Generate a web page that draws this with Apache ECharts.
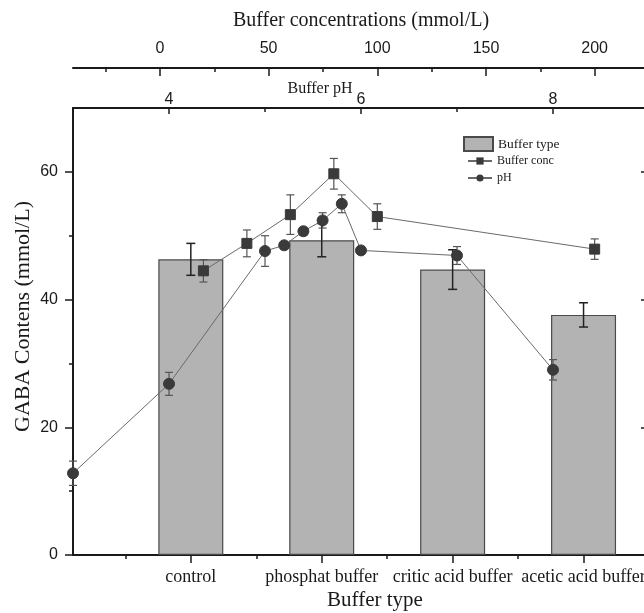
<!DOCTYPE html>
<html>
<head>
<meta charset="utf-8">
<script src="https://cdn.jsdelivr.net/npm/echarts@6/dist/echarts.min.js"></script>
<style>
html,body{margin:0;padding:0;background:#fff;}
#chart{width:644px;height:613px;}
</style>
</head>
<body>
<div id="chart"></div>
<script>
// ---- data ----
const categories = ['control', 'phosphat buffer', 'critic acid buffer', 'acetic acid buffer'];
const categoryPos = [1, 2, 3, 4];
const barValues = [46.3, 49.3, 44.7, 37.6];
const barErrors = [2.5, 2.6, 3.1, 1.9];

const concX = [20, 40, 60, 80, 100, 200];
const concValues = [44.5, 48.8, 53.3, 59.7, 53.0, 47.9];
const concErrors = [1.75, 2.1, 3.1, 2.4, 2.0, 1.6];

const phX = [3, 4, 5, 5.2, 5.4, 5.6, 5.8, 6, 7, 8];
const phValues = [12.8, 26.8, 47.6, 48.5, 50.7, 52.4, 55.0, 47.7, 46.9, 29.0];
const phErrors = [1.9, 1.8, 2.4, 0.5, 0.6, 1.2, 1.4, 0.6, 1.4, 1.6];

const typeMajorTicks = [1, 2, 3, 4];
const typeMinorTicks = [0.5, 1.5, 2.5, 3.5, 4.5];
const concMajorTicks = [0, 50, 100, 150, 200];
const concMinorTicks = [-25, 25, 75, 125, 175, 225];
const phMajorTicks = [4, 6, 8];
const phMinorTicks = [5, 7];
const yMajorTicks = [0, 20, 40, 60];
const yMinorTicks = [10, 30, 50];

// ---- helpers ----
const SERIF = '"Liberation Serif", "Times New Roman", serif';
const SANS = '"Liberation Sans", Arial, sans-serif';
const INK = '#1a1a1a';

function errData(xs, ys, es) {
  return xs.map((x, i) => [x, ys[i] - es[i], ys[i] + es[i]]);
}
function errRender(color, lw, cap) {
  return function (params, api) {
    const x = api.value(0), lo = api.value(1), hi = api.value(2);
    const a = api.coord([x, hi]);
    const b = api.coord([x, lo]);
    const st = { stroke: color, lineWidth: lw };
    return {
      type: 'group',
      children: [
        { type: 'line', shape: { x1: a[0], y1: a[1], x2: b[0], y2: b[1] }, style: st },
        { type: 'line', shape: { x1: a[0] - cap, y1: a[1], x2: a[0] + cap, y2: a[1] }, style: st },
        { type: 'line', shape: { x1: b[0] - cap, y1: b[1], x2: b[0] + cap, y2: b[1] }, style: st }
      ]
    };
  };
}

const axLine = { show: true, onZero: false, lineStyle: { color: INK, width: 2 } };
const noLine = { show: false, onZero: false };

const chart = echarts.init(document.getElementById('chart'), null, { renderer: 'canvas' });

const option = {
  backgroundColor: '#fff',
  animation: false,
  grid: { left: 73, width: 576, top: 108, height: 447, containLabel: false, outerBoundsMode: 'none' },
  legend: [
    {
      data: [{ name: 'Buffer type', icon: 'rect' }],
      left: 458, top: 131,
      itemWidth: 29, itemHeight: 14,
      textStyle: { fontFamily: SERIF, fontSize: 13.5, color: INK },
      selectedMode: false
    },
    {
      data: ['Buffer conc', 'pH'],
      orient: 'vertical',
      left: 462, top: 150,
      itemWidth: 24, itemHeight: 9, itemGap: 5,
      textStyle: { fontFamily: SERIF, fontSize: 12, color: INK },
      selectedMode: false
    }
  ],
  xAxis: [
    { // 0: bottom buffer type, major
      type: 'value', position: 'bottom', min: 0.1, max: 4.5,
      axisLine: axLine,
      axisTick: { show: true, customValues: typeMajorTicks, length: 8, lineStyle: { color: INK, width: 1.5 } },
      axisLabel: {
        show: true, customValues: typeMajorTicks, margin: 13,
        formatter: v => categories[categoryPos.indexOf(Math.round(v))] || '',
        fontFamily: SERIF, fontSize: 18, color: INK
      },
      splitLine: { show: false },
      name: 'Buffer type', nameLocation: 'middle', nameGap: 35, nameMoveOverlap: false,
      nameTextStyle: { fontFamily: SERIF, fontSize: 21, color: INK, padding: [0, 0, 0, 28] }
    },
    { // 1: bottom minor ticks
      type: 'value', position: 'bottom', min: 0.1, max: 4.5,
      axisLine: noLine,
      axisTick: { show: true, customValues: typeMinorTicks, length: 4, lineStyle: { color: INK, width: 1.5 } },
      axisLabel: { show: false }, splitLine: { show: false }
    },
    { // 2: top concentration axis, major
      type: 'value', position: 'top', offset: 40, min: -40, max: 225,
      axisLine: axLine,
      axisTick: { show: true, inside: true, customValues: concMajorTicks, length: 8, lineStyle: { color: INK, width: 1.5 } },
      axisLabel: { show: true, customValues: concMajorTicks, margin: 11, fontFamily: SANS, fontSize: 16, color: INK },
      splitLine: { show: false },
      name: 'Buffer concentrations (mmol/L)', nameLocation: 'middle', nameGap: 37, nameMoveOverlap: false,
      nameTextStyle: { fontFamily: SERIF, fontSize: 20, color: INK }
    },
    { // 3: top concentration minor ticks
      type: 'value', position: 'top', offset: 40, min: -40, max: 225,
      axisLine: noLine,
      axisTick: { show: true, inside: true, customValues: concMinorTicks, length: 4, lineStyle: { color: INK, width: 1.5 } },
      axisLabel: { show: false }, splitLine: { show: false }
    },
    { // 4: pH axis, major
      type: 'value', position: 'top', offset: 0, min: 3, max: 9,
      axisLine: axLine,
      axisTick: { show: true, inside: true, customValues: phMajorTicks, length: 6, lineStyle: { color: INK, width: 1.5 } },
      axisLabel: { show: true, customValues: phMajorTicks, margin: 0, fontFamily: SANS, fontSize: 16, color: INK },
      splitLine: { show: false },
      name: 'Buffer pH', nameLocation: 'middle', nameGap: 11, nameMoveOverlap: false,
      nameTextStyle: { fontFamily: SERIF, fontSize: 16, color: INK, padding: [0, 82, 0, 0] }
    },
    { // 5: pH minor ticks
      type: 'value', position: 'top', offset: 0, min: 3, max: 9,
      axisLine: noLine,
      axisTick: { show: true, inside: true, customValues: phMinorTicks, length: 4, lineStyle: { color: INK, width: 1.5 } },
      axisLabel: { show: false }, splitLine: { show: false }
    }
  ],
  yAxis: [
    {
      type: 'value', position: 'left', min: 0, max: 70, interval: 10,
      axisLine: axLine,
      axisTick: { show: true, customValues: yMajorTicks, length: 8, lineStyle: { color: INK, width: 1.5 } },
      axisLabel: { show: true, customValues: yMajorTicks, margin: 15, fontFamily: SANS, fontSize: 16, color: INK },
      splitLine: { show: false },
      name: 'GABA Contens (mmol/L)', nameLocation: 'middle', nameGap: 39, nameRotate: 90, nameMoveOverlap: false,
      nameTextStyle: { fontFamily: SERIF, fontSize: 22, color: INK, padding: [0, 0, 0, 30] }
    },
    { // left minor ticks
      type: 'value', position: 'left', min: 0, max: 70,
      axisLine: noLine,
      axisTick: { show: true, customValues: yMinorTicks, length: 4, lineStyle: { color: INK, width: 1.5 } },
      axisLabel: { show: false }, splitLine: { show: false }
    },
    {
      type: 'value', position: 'right', min: 0, max: 70,
      axisLine: axLine,
      axisTick: { show: true, inside: true, customValues: yMajorTicks, length: 8, lineStyle: { color: INK, width: 1.5 } },
      axisLabel: { show: false }, splitLine: { show: false }
    }
  ],
  series: [
    {
      name: 'Buffer type', type: 'bar', xAxisIndex: 0, yAxisIndex: 0,
      data: categoryPos.map((x, i) => [x, barValues[i]]),
      barWidth: 65,
      itemStyle: { color: '#b3b3b3', borderColor: '#4a4a4a', borderWidth: 1.2 },
      z: 1
    },
    {
      type: 'custom', xAxisIndex: 0, yAxisIndex: 0,
      data: errData(categoryPos, barValues, barErrors),
      renderItem: errRender('#222', 1.5, 4.5),
      encode: { x: 0, y: [1, 2] }, z: 2, silent: true
    },
    {
      type: 'custom', xAxisIndex: 2, yAxisIndex: 0,
      data: errData(concX, concValues, concErrors),
      renderItem: errRender('#555', 1.2, 4),
      encode: { x: 0, y: [1, 2] }, z: 3, silent: true
    },
    {
      type: 'custom', xAxisIndex: 4, yAxisIndex: 0,
      data: errData(phX, phValues, phErrors),
      renderItem: errRender('#555', 1.2, 4),
      encode: { x: 0, y: [1, 2] }, z: 3, silent: true
    },
    {
      name: 'Buffer conc', type: 'line', xAxisIndex: 2, yAxisIndex: 0,
      data: concX.map((x, i) => [x, concValues[i]]),
      symbol: 'rect', symbolSize: 10, showSymbol: true,
      lineStyle: { color: '#6a6a6a', width: 1 },
      itemStyle: { color: '#3a3a3a', borderColor: '#3a3a3a' },
      z: 4
    },
    {
      name: 'pH', type: 'line', xAxisIndex: 4, yAxisIndex: 0,
      data: phX.map((x, i) => [x, phValues[i]]),
      symbol: 'circle', symbolSize: 11, showSymbol: true,
      lineStyle: { color: '#6a6a6a', width: 1 },
      itemStyle: { color: '#3a3a3a', borderColor: '#3a3a3a' },
      z: 4
    }
  ]
};
chart.setOption(option);
</script>
</body>
</html>
